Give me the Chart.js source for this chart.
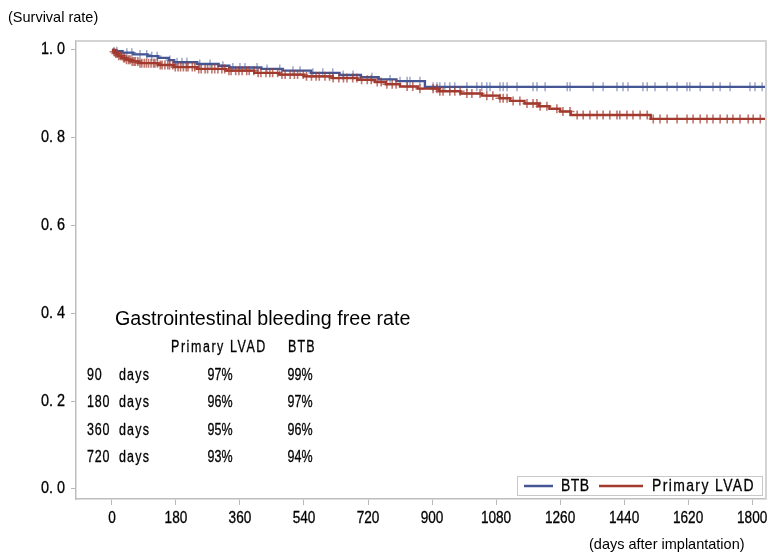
<!DOCTYPE html>
<html>
<head>
<meta charset="utf-8">
<script src="https://cdn.jsdelivr.net/npm/chart.js@4.4.1/dist/chart.umd.min.js"></script>
<style>
  html, body { margin: 0; padding: 0; background: #fff; }
  #wrap { width: 770px; height: 554px; }
</style>
</head>
<body>
<div id="wrap"><canvas id="km" width="770" height="554"></canvas></div>
<script>
// Kaplan-Meier: freedom from gastrointestinal bleeding after LVAD implantation

const X_TICKS = [0, 180, 360, 540, 720, 900, 1080, 1260, 1440, 1620, 1800];
const Y_TICKS = [0, 0.2, 0.4, 0.6, 0.8, 1.0];
const Y_TICK_LABELS = ['0. 0', '0. 2', '0. 4', '0. 6', '0. 8', '1. 0'];

// ─── BTB (bridge to bridge) ───
const BTB_DAYS = [0, 10, 30, 60, 100, 130, 160, 175, 240, 300, 330, 420, 480, 560, 640, 700, 750, 800, 880, 1839];
const BTB_SURV = [1.0, 0.997, 0.994, 0.99, 0.986, 0.982, 0.977, 0.972, 0.968, 0.964, 0.96, 0.957, 0.953, 0.948, 0.943, 0.938, 0.933, 0.929, 0.916, 0.916];
const BTB_CENSOR = [14, 42, 56, 79, 98, 112, 127, 163, 183, 197, 211, 247, 276, 312, 340, 360, 374, 408, 436,
  472, 509, 529, 565, 593, 621, 650, 678, 731, 782, 810, 830, 838, 866, 903, 914, 922, 936, 950, 964, 998,
  1026, 1040, 1054, 1063, 1091, 1100, 1111, 1139, 1184, 1195, 1218, 1280, 1288, 1353, 1381, 1420, 1437,
  1451, 1493, 1505, 1527, 1561, 1589, 1617, 1625, 1654, 1690, 1710, 1738, 1794, 1808, 1828];

// ─── Primary LVAD ───
const LVAD_DAYS = [0, 4, 10, 18, 28, 40, 55, 75, 130, 175, 240, 320, 400, 470, 540, 620, 690, 740, 770, 810,
  860, 920, 980, 1040, 1090, 1120, 1160, 1200, 1230, 1260, 1290, 1515, 1839];
const LVAD_SURV = [1.0, 0.996, 0.992, 0.987, 0.982, 0.978, 0.974, 0.97, 0.966, 0.961, 0.957, 0.953, 0.948, 0.944,
  0.94, 0.936, 0.932, 0.927, 0.922, 0.917, 0.912, 0.906, 0.901, 0.896, 0.89, 0.884, 0.878, 0.872, 0.866, 0.86,
  0.852, 0.843, 0.843];
const LVAD_CENSOR = [6, 11, 15, 19, 24, 27, 33, 36, 41, 47, 51, 57, 62, 66, 73, 79, 84, 91, 97, 103, 110, 117,
  121, 128, 136, 141, 149, 157, 162, 171, 178, 186, 193, 201, 209, 214, 226, 233, 244, 251, 262, 269, 281, 289,
  298, 309, 317, 329, 335, 348, 357, 366, 379, 386, 399, 411, 419, 433, 444, 452, 466, 478, 487, 501, 513, 522,
  538, 547, 561, 574, 583, 599, 612, 622, 638, 651, 661, 677, 689, 702, 718, 729, 746, 757, 773, 788, 799, 830,
  846, 866, 903, 914, 922, 931, 950, 964, 979, 998, 1012, 1035, 1054, 1071, 1091, 1100, 1111, 1128, 1147, 1167,
  1184, 1195, 1204, 1223, 1251, 1268, 1288, 1308, 1325, 1344, 1364, 1381, 1400, 1420, 1428, 1448, 1465, 1485,
  1505, 1522, 1541, 1561, 1589, 1617, 1634, 1654, 1673, 1690, 1710, 1730, 1746, 1766, 1789, 1803, 1823];

// Free-rate table printed inside the plot
const TABLE_DAYS = ['90', '180', '360', '720'];
const TABLE_LVAD = ['97%', '96%', '95%', '93%'];
const TABLE_BTB = ['99%', '97%', '96%', '94%'];

const BLUE = '#445694';
const RED = '#a23a2e';
const SANS = '"Liberation Sans", Arial, sans-serif';
const INK = '#000';

function survivalAt(days, surv, t) {
  let s = surv[0];
  for (let i = 0; i < days.length; i++) {
    if (days[i] <= t) s = surv[i];
  }
  return s;
}

const curve = (days, surv) => days.map((d, i) => ({ x: d, y: surv[i] }));
const censored = (times, days, surv) => times.map(t => ({ x: t, y: survivalAt(days, surv, t) }));

// no narrow face installed, so squeeze Liberation Sans horizontally
function narrowText(ctx, text, x, y, opts) {
  ctx.save();
  ctx.translate(x, y);
  ctx.scale(opts.squeeze || 0.82, 1);
  ctx.font = opts.size + 'px ' + SANS;
  ctx.textAlign = opts.align || 'left';
  ctx.textBaseline = 'middle';
  ctx.letterSpacing = (opts.spacing || 0) + 'px';
  ctx.fillStyle = INK;
  ctx.strokeStyle = INK;
  ctx.lineWidth = 0.3;
  ctx.fillText(text, 0, 0);
  ctx.strokeText(text, 0, 0);
  ctx.restore();
}

// frame, tick labels, captions, table and legend
const decorations = {
  id: 'decorations',
  afterDraw(chart) {
    const { ctx, chartArea: a } = chart;
    const xs = chart.scales.x, ys = chart.scales.y;
    ctx.save();

    ctx.strokeStyle = '#d4d4d4';
    ctx.lineWidth = 2;
    ctx.beginPath();
    ctx.moveTo(a.left, a.top);
    ctx.lineTo(a.right, a.top);
    ctx.lineTo(a.right, a.bottom);
    ctx.stroke();

    X_TICKS.forEach(v => narrowText(ctx, String(v), xs.getPixelForValue(v), 519, { size: 16, squeeze: 0.85, align: 'center' }));
    Y_TICKS.forEach((v, i) => narrowText(ctx, Y_TICK_LABELS[i], 65, ys.getPixelForValue(v), { size: 16, squeeze: 0.9, align: 'right' }));

    ctx.fillStyle = INK;
    ctx.textBaseline = 'alphabetic';
    ctx.textAlign = 'left';
    ctx.font = '14.5px ' + SANS;
    ctx.fillText('(Survival rate)', 8, 22);
    ctx.fillText('(days after implantation)', 589, 549);

    ctx.font = '19.7px ' + SANS;
    ctx.fillText('Gastrointestinal bleeding free rate', 115, 325);

    const cell = { size: 16, squeeze: 0.78 };
    narrowText(ctx, 'Primary LVAD', 171, 348, { ...cell, spacing: 2 });
    narrowText(ctx, 'BTB', 288, 348, { ...cell, spacing: 1.5 });
    const rowY = [376, 403, 431, 458];
    rowY.forEach((y, i) => {
      narrowText(ctx, TABLE_DAYS[i], 87, y, { ...cell, spacing: 1 });
      narrowText(ctx, 'days', 119, y, { ...cell, spacing: 1.5 });
      narrowText(ctx, TABLE_LVAD[i], 220, y, { ...cell, align: 'center' });
      narrowText(ctx, TABLE_BTB[i], 300, y, { ...cell, align: 'center' });
    });

    // legend box
    ctx.strokeStyle = '#c8c8c8';
    ctx.lineWidth = 1;
    ctx.strokeRect(517.5, 476.5, 245, 19);
    ctx.lineWidth = 2.5;
    ctx.strokeStyle = BLUE;
    ctx.beginPath(); ctx.moveTo(524, 486); ctx.lineTo(553, 486); ctx.stroke();
    ctx.strokeStyle = RED;
    ctx.beginPath(); ctx.moveTo(599, 486); ctx.lineTo(643, 486); ctx.stroke();
    narrowText(ctx, chart.data.datasets[0].label, 561, 486, { size: 17, squeeze: 0.82, spacing: 0.5 });
    narrowText(ctx, chart.data.datasets[1].label, 652, 486, { size: 17, squeeze: 0.82, spacing: 1.7 });
    ctx.restore();
  }
};

new Chart(document.getElementById('km'), {
  type: 'scatter',
  data: {
    datasets: [
      {
        label: 'BTB',
        data: curve(BTB_DAYS, BTB_SURV),
        showLine: true,
        stepped: true,
        borderColor: BLUE,
        borderWidth: 2.4,
        pointRadius: 0,
        order: 4
      },
      {
        label: 'Primary LVAD',
        data: curve(LVAD_DAYS, LVAD_SURV),
        showLine: true,
        stepped: true,
        borderColor: RED,
        borderWidth: 2.4,
        pointRadius: 0,
        order: 2
      },
      {
        label: 'BTB censored',
        data: censored(BTB_CENSOR, BTB_DAYS, BTB_SURV),
        pointStyle: 'cross',
        pointRadius: 4.5,
        borderWidth: 1.3,
        borderColor: 'rgba(68,86,148,0.6)',
        order: 3
      },
      {
        label: 'Primary LVAD censored',
        data: censored(LVAD_CENSOR, LVAD_DAYS, LVAD_SURV),
        pointStyle: 'cross',
        pointRadius: 4.5,
        borderWidth: 1.6,
        borderColor: 'rgba(162,58,46,0.7)',
        order: 1
      }
    ]
  },
  options: {
    responsive: false,
    animation: false,
    devicePixelRatio: 1,
    layout: { autoPadding: false, padding: { top: 41, right: 4, left: 0, bottom: 0 } },
    plugins: { legend: { display: false }, tooltip: { enabled: false } },
    scales: {
      x: {
        type: 'linear',
        min: -101,
        max: 1839,
        afterFit: s => { s.height = 55; },
        afterBuildTicks: s => { s.ticks = X_TICKS.map(v => ({ value: v })); },
        grid: { drawOnChartArea: false, tickLength: 6, color: '#b8b8b8' },
        border: { color: '#bdbdbd', width: 1.5 },
        ticks: { display: false }
      },
      y: {
        min: -0.0228,
        max: 1.0205,
        afterFit: s => { s.width = 76; },
        afterBuildTicks: s => { s.ticks = Y_TICKS.map(v => ({ value: v })); },
        grid: { drawOnChartArea: false, tickLength: 5, color: '#b8b8b8' },
        border: { color: '#bdbdbd', width: 1.5 },
        ticks: { display: false }
      }
    }
  },
  plugins: [decorations]
});
</script>
</body>
</html>
